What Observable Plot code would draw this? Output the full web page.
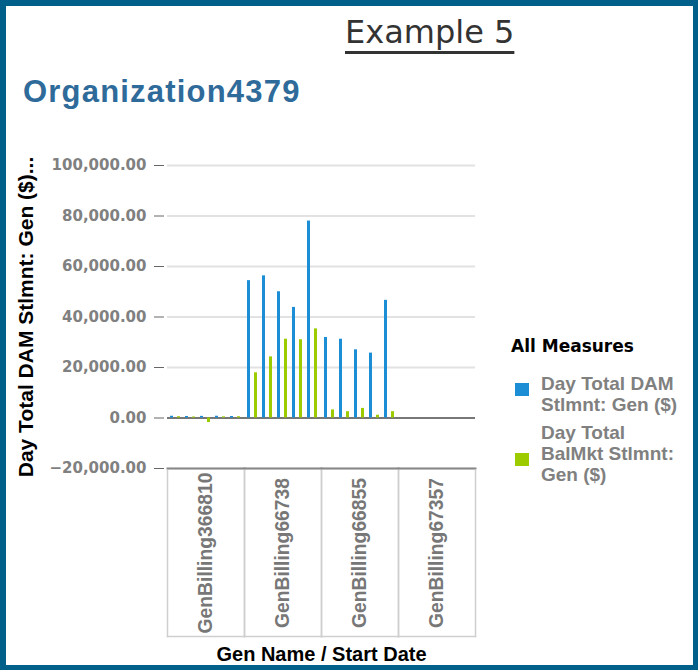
<!DOCTYPE html>
<html>
<head>
<meta charset="utf-8">
<script src="https://cdn.jsdelivr.net/npm/d3@7"></script>
<script src="https://cdn.jsdelivr.net/npm/@observablehq/plot@0.6"></script>
<style>
  html, body { margin: 0; padding: 0; background: #fff; }
  #page { position: relative; width: 698px; height: 670px; overflow: hidden; background: #fff; }
  #border { position: absolute; left: 0; top: 0; width: 698px; height: 670px; box-sizing: border-box;
            border-style: solid; border-color: #00608a; border-width: 6px 5px 5px 6px; pointer-events: none; }
  #title { position: absolute; left: 345px; top: 14px; font: 32px/36px "DejaVu Sans"; color: #333;
           text-decoration: underline; text-decoration-thickness: 3px; text-underline-offset: 8px; white-space: nowrap; }
  #org { position: absolute; left: 23px; top: 75px; font: bold 31px/34px "Liberation Sans"; letter-spacing: 1.2px; color: #2f6b9a; white-space: nowrap; }
  #chart { position: absolute; left: 0; top: 130px; }
  #legend-title { position: absolute; left: 511px; top: 336px; font: bold 17px/20px "DejaVu Sans"; color: #000; white-space: nowrap; }
  .item { position: absolute; left: 541px; font: bold 19px/21px "Liberation Sans"; color: #808080; white-space: nowrap; }
  .sw { position: absolute; left: 515px; width: 14px; height: 13px; }
</style>
</head>
<body>
<div id="page">
  <div id="title"></div>
  <div id="org"></div>
  <div id="chart"></div>
  <div id="legend"></div>
  <div id="border"></div>
</div>
<script>
// ---- data ----
const titleText = "Example 5";
const orgName = "Organization4379";
const gens = ["GenBilling366810", "GenBilling66738", "GenBilling66855", "GenBilling67357"];
const startDates = ["06/01", "06/02", "06/03", "06/04", "06/05"];
const measures = ["Day Total DAM Stlmnt: Gen ($)", "Day Total BalMkt Stlmnt: Gen ($)"];
const measureLines = [["Day Total DAM", "Stlmnt: Gen ($)"], ["Day Total", "BalMkt Stlmnt:", "Gen ($)"]];
const colors = ["#1b8ed6", "#9ccc00"];
const damValues = [
  [700, 600, 650, 700, 600],
  [54400, 56300, 50000, 43800, 78000],
  [31900, 31200, 27000, 25700, 46600],
  [0, 0, 0, 0, 0]
];
const balValues = [
  [500, 400, -1800, 450, 500],
  [17900, 24200, 31200, 31000, 35300],
  [3200, 2500, 3800, 1100, 2500],
  [0, 0, 0, 0, 0]
];
const yTicks = [-20000, 0, 20000, 40000, 60000, 80000, 100000];
const yLabel = "Day Total DAM Stlmnt: Gen ($)...";
const xLabel = "Gen Name / Start Date";
const legendTitle = "All Measures";

// ---- table built from the arrays ----
const rows = [];
gens.forEach((g, gi) => startDates.forEach((d, di) => {
  rows.push({gen: g, date: d, dam: damValues[gi][di], bal: balValues[gi][di]});
}));

document.getElementById("title").textContent = titleText;
document.getElementById("org").textContent = orgName;

const chart = Plot.plot({
  width: 698,
  height: 540,
  marginTop: 35,
  marginBottom: 202,
  marginLeft: 166,
  marginRight: 223,
  style: {background: "transparent", fontFamily: "Liberation Sans", overflow: "visible"},
  fx: {domain: gens, padding: 0},
  x: {domain: startDates, padding: 0, axis: null},
  y: {domain: [-20000, 100000]},
  marks: [
    Plot.gridY(yTicks, {stroke: "#e2e2e2", strokeOpacity: 1, strokeWidth: 2}),
    Plot.axisY({ticks: yTicks, tickFormat: d3.format(",.2f"), tickSize: 10, tickPadding: 8, dx: -3,
                stroke: "#666", fill: "#808080", fontSize: 15, fontWeight: "bold", fontFamily: "DejaVu Sans", label: null}),
    Plot.axisY({ticks: [], tickSize: 0, label: yLabel, labelAnchor: "center", labelArrow: "none", labelOffset: 149, dy: -9,
                fill: "#000", fontSize: 21, fontWeight: "bold", fontFamily: "Liberation Sans"}),
    Plot.frame({anchor: "bottom", stroke: "#888", strokeWidth: 2}),
    Plot.frame({anchor: "left", stroke: "#cfcfcf", strokeWidth: 1.5, insetTop: 305, insetBottom: -168}),
    Plot.frame({anchor: "right", stroke: "#cfcfcf", strokeWidth: 1.5, insetTop: 305, insetBottom: -168}),
    Plot.frame({anchor: "bottom", stroke: "#cfcfcf", strokeWidth: 1.5, insetBottom: -168}),
    Plot.ruleY([0], {stroke: "#777", strokeWidth: 2}),
    Plot.barY(rows, {fx: "gen", x: "date", y: "dam", fill: colors[0], insetLeft: 2, insetRight: 10}),
    Plot.barY(rows, {fx: "gen", x: "date", y: "bal", fill: colors[1], insetLeft: 9, insetRight: 3}),
    Plot.axisFx({anchor: "bottom", tickSize: 0, tickPadding: 84.5, tickRotate: -90, textAnchor: "middle", lineAnchor: "middle",
                 fill: "#777", fontSize: 19.3, fontWeight: "bold", fontFamily: "Liberation Sans", label: null}),
    Plot.axisFx({anchor: "bottom", ticks: [], tickSize: 0, label: xLabel, labelAnchor: "center", labelArrow: "none", labelOffset: 192,
                 fill: "#000", fontSize: 20, fontWeight: "bold", fontFamily: "Liberation Sans"})
  ]
});
document.getElementById("chart").appendChild(chart);

// ---- legend ----
const legend = document.getElementById("legend");
const lt = document.createElement("div");
lt.id = "legend-title";
lt.textContent = legendTitle;
legend.appendChild(lt);
const itemTops = [373, 422];
const swatchTops = [383, 453];
measures.forEach((m, i) => {
  const sw = document.createElement("div");
  sw.className = "sw";
  sw.style.top = swatchTops[i] + "px";
  sw.style.background = colors[i];
  sw.title = m;
  legend.appendChild(sw);
  const t = document.createElement("div");
  t.className = "item";
  t.style.top = itemTops[i] + "px";
  t.innerHTML = measureLines[i].join("<br>");
  legend.appendChild(t);
});
</script>
</body>
</html>
